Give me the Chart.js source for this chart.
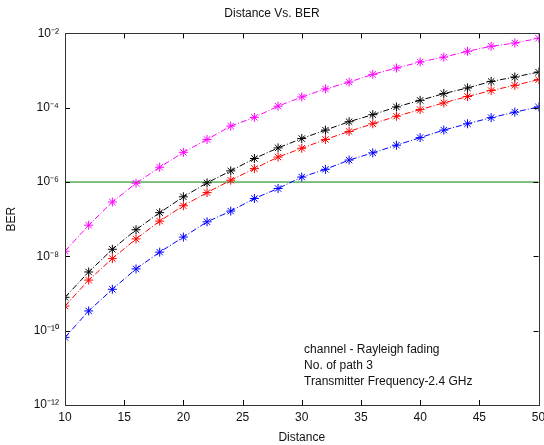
<!DOCTYPE html>
<html>
<head>
<meta charset="utf-8">
<script src="https://cdn.jsdelivr.net/npm/chart.js@4.4.1/dist/chart.umd.min.js"></script>
<style>
  html, body { margin: 0; padding: 0; background: #fff; }
  #wrap { width: 544px; height: 445px; }
</style>
</head>
<body>
<div id="wrap"><canvas id="c" width="544" height="445"></canvas></div>
<script>
// ---- data ----
const distance = [10, 12, 14, 16, 18, 20, 22, 24, 26, 28, 30, 32, 34, 36, 38, 40, 42, 44, 46, 48, 50];
const berMagenta = [1.38e-8, 6.9e-8, 2.9e-7, 9.3e-7, 2.5e-6, 6.3e-6, 1.4e-5, 3.2e-5, 5.5e-5, 1.1e-4, 1.95e-4,
                    3.2e-4, 4.9e-4, 7.9e-4, 1.17e-3, 1.7e-3, 2.3e-3, 3.3e-3, 4.5e-3, 5.5e-3, 7.4e-3];
const berBlack = [7.9e-10, 3.8e-9, 1.55e-8, 5.2e-8, 1.5e-7, 4.0e-7, 9.5e-7, 2.0e-6, 4.3e-6, 8.3e-6, 1.48e-5,
                  2.5e-5, 4.2e-5, 6.5e-5, 1.05e-4, 1.58e-4, 2.4e-4, 3.4e-4, 5.1e-4, 6.7e-4, 9.1e-4];
const berRed = [4.6e-10, 2.3e-9, 8.7e-9, 2.95e-8, 8.9e-8, 2.3e-7, 5.2e-7, 1.12e-6, 2.3e-6, 4.7e-6, 8.1e-6,
                1.4e-5, 2.3e-5, 3.7e-5, 5.9e-5, 8.9e-5, 1.35e-4, 2.0e-4, 2.9e-4, 4.0e-4, 5.7e-4];
const berBlue = [6.6e-11, 3.4e-10, 1.3e-9, 4.6e-9, 1.3e-8, 3.3e-8, 8.5e-8, 1.65e-7, 3.6e-7, 6.7e-7, 1.36e-6,
                 2.2e-6, 3.9e-6, 6.1e-6, 9.8e-6, 1.57e-5, 2.5e-5, 3.7e-5, 5.4e-5, 7.6e-5, 1.05e-4];
const thresholdX = [10, 50];
const thresholdY = [1e-6, 1e-6];

const xTicks = [10, 15, 20, 25, 30, 35, 40, 45, 50];
const yTicks = [1e-12, 1e-10, 1e-8, 1e-6, 1e-4, 1e-2];
const yTickLabels = ["10\u207B\u00B9\u00B2", "10\u207B\u00B9\u2070", "10\u207B\u2078", "10\u207B\u2076", "10\u207B\u2074", "10\u207B\u00B2"];
const noteLines = ["channel - Rayleigh fading", "No. of path 3", "Transmitter Frequency-2.4 GHz"];

const FONT = "'Liberation Sans', Arial, sans-serif";
const pts = ys => distance.map((d, i) => ({ x: d, y: ys[i] }));

function series(label, ys, color, dash) {
  return {
    label, data: pts(ys), borderColor: color, backgroundColor: color,
    borderWidth: 1, borderDash: dash, pointStyle: "star", pointRadius: 4.5,
    pointBorderWidth: 1, pointBorderColor: color, tension: 0, fill: false
  };
}

// inward tick marks + box + text note
const decorPlugin = {
  id: "decor",
  afterDraw(chart) {
    const { ctx, chartArea: a, scales } = chart;
    ctx.save();
    ctx.strokeStyle = "#000";
    ctx.lineWidth = 1;
    ctx.beginPath();
    xTicks.forEach(v => {
      const px = Math.round(scales.x.getPixelForValue(v)) + 0.5;
      ctx.moveTo(px, a.bottom); ctx.lineTo(px, a.bottom - 5);
      ctx.moveTo(px, a.top); ctx.lineTo(px, a.top + 5);
    });
    yTicks.forEach(v => {
      const py = Math.round(scales.y.getPixelForValue(v)) + 0.5;
      ctx.moveTo(a.left, py); ctx.lineTo(a.left + 5, py);
      ctx.moveTo(a.right, py); ctx.lineTo(a.right - 5, py);
    });
    ctx.stroke();
    ctx.strokeStyle = "#333";
    ctx.strokeRect(Math.round(a.left) + 0.5, Math.round(a.top) + 0.5,
                   Math.round(a.right - a.left), Math.round(a.bottom - a.top));
    ctx.fillStyle = "#111";
    ctx.font = "12px " + FONT;
    ctx.textBaseline = "middle";
    const tx = scales.x.getPixelForValue(30.2);
    noteLines.forEach((t, i) => ctx.fillText(t, tx, a.bottom - 55 + i * 16));
    ctx.restore();
  }
};

new Chart(document.getElementById("c"), {
  type: "line",
  data: {
    datasets: [
      series("magenta", berMagenta, "#ff00ff", [6, 2, 1, 2]),
      series("black", berBlack, "#000000", [6, 2, 1, 2]),
      series("red", berRed, "#ff0000", [6, 2, 1, 2]),
      series("blue", berBlue, "#0000ff", [6, 2, 1, 2]),
      { label: "threshold", data: thresholdX.map((x, i) => ({ x, y: thresholdY[i] })),
        borderColor: "#008000", borderWidth: 1, pointRadius: 0, fill: false }
    ]
  },
  options: {
    responsive: false,
    animation: false,
    layout: { padding: { left: 4, right: 4, top: 0, bottom: 0 } },
    plugins: {
      legend: { display: false },
      tooltip: { enabled: false },
      title: { display: true, text: "Distance Vs. BER", color: "#111",
               font: { family: FONT, size: 12, weight: "normal" }, padding: { top: 6, bottom: 13 } }
    },
    scales: {
      x: {
        type: "linear", min: 10, max: 50,
        afterBuildTicks: s => { s.ticks = xTicks.map(v => ({ value: v })); },
        afterFit: s => { s.height = 40; s.paddingLeft = 0; s.paddingRight = 0; },
        grid: { display: false, drawTicks: false },
        border: { display: false },
        ticks: { color: "#111", font: { family: FONT, size: 12 }, padding: 5, maxRotation: 0 },
        title: { display: true, text: "Distance", color: "#111", font: { family: FONT, size: 12 }, padding: { top: 2, bottom: 0 } }
      },
      y: {
        type: "logarithmic", min: 1e-12, max: 1e-2,
        afterBuildTicks: s => { s.ticks = yTicks.map(v => ({ value: v })); },
        afterFit: s => { s.width = 61; },
        grid: { display: false, drawTicks: false },
        border: { display: false },
        ticks: { color: "#111", font: { family: FONT, size: 12 }, padding: 6,
                 callback: v => yTickLabels[yTicks.indexOf(v)] ?? "" },
        title: { display: true, text: "BER", color: "#111", font: { family: FONT, size: 12 }, padding: 0 }
      }
    }
  },
  plugins: [decorPlugin]
});
</script>
</body>
</html>
